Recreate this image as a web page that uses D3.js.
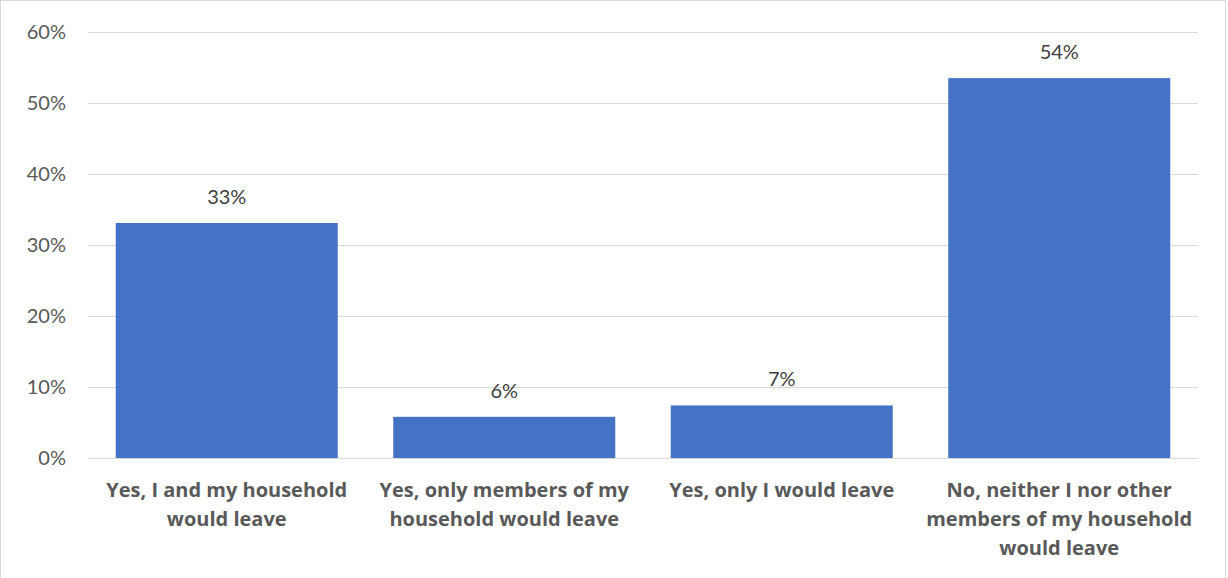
<!DOCTYPE html>
<html>
<head>
<meta charset="utf-8">
<script src="https://cdn.jsdelivr.net/npm/d3@7"></script>
<style>
  html, body { margin: 0; padding: 0; background: #fff; }
  svg { display: block; }
</style>
</head>
<body>
<svg id="chart" width="1228" height="578"></svg>
<script>
const categories = [
  ["Yes, I and my household", "would leave"],
  ["Yes, only members of my", "household would leave"],
  ["Yes, only I would leave"],
  ["No, neither I nor other", "members of my household", "would leave"]
];
const values = [33.1, 5.8, 7.4, 53.5];
const valueLabels = ["33%", "6%", "7%", "54%"];
const yTicks = [0, 10, 20, 30, 40, 50, 60];

(function () {
const FONT = "Lato, 'Open Sans', sans-serif";
const BFONT = "'Open Sans', Lato, sans-serif";
const svg = d3.select("#chart");

svg.append("rect")
  .attr("x", 0.5).attr("y", 0.5)
  .attr("width", 1225).attr("height", 640)
  .attr("fill", "#fff").attr("stroke", "#d9d9d9");

const pLeft = 88, pRight = 1198, pTop = 32, pBottom = 458;
const x = d3.scaleBand().domain(d3.range(categories.length))
  .range([pLeft, pRight]).paddingInner(0.2).paddingOuter(0.1);
const y = d3.scaleLinear().domain([0, 60]).range([pBottom, pTop]);

svg.append("g").selectAll("line").data(yTicks).join("line")
  .attr("x1", pLeft).attr("x2", pRight)
  .attr("y1", d => Math.round(y(d)) + 0.5).attr("y2", d => Math.round(y(d)) + 0.5)
  .attr("stroke", "#d9d9d9").attr("stroke-width", 1);

const yAxis = d3.axisLeft(y).tickValues(yTicks).tickFormat(d => d + "%").tickSize(0).tickPadding(0);
const ga = svg.append("g").attr("transform", `translate(66,0)`).call(yAxis);
ga.select(".domain").remove();
ga.selectAll("text")
  .attr("font-family", FONT).attr("font-size", 20).attr("fill", "#595959");

svg.append("g").selectAll("rect").data(values).join("rect")
  .attr("x", (d, i) => x(i)).attr("width", x.bandwidth())
  .attr("y", d => y(d)).attr("height", d => y(0) - y(d))
  .attr("fill", "#4472c4");

svg.append("g").selectAll("text").data(values).join("text")
  .attr("x", (d, i) => x(i) + x.bandwidth() / 2)
  .attr("y", d => y(d) - 19)
  .attr("text-anchor", "middle")
  .attr("font-family", FONT).attr("font-size", 20).attr("fill", "#404040")
  .text((d, i) => valueLabels[i]);

const cg = svg.append("g");
categories.forEach((lines, i) => {
  const t = cg.append("text")
    .attr("text-anchor", "middle")
    .attr("font-family", BFONT).attr("font-size", 20).attr("font-weight", "bold")
    .attr("fill", "#595959");
  lines.forEach((ln, j) => {
    t.append("tspan")
      .attr("x", x(i) + x.bandwidth() / 2)
      .attr("y", 497 + j * 29)
      .text(ln);
  });
});
})();
</script>
</body>
</html>
